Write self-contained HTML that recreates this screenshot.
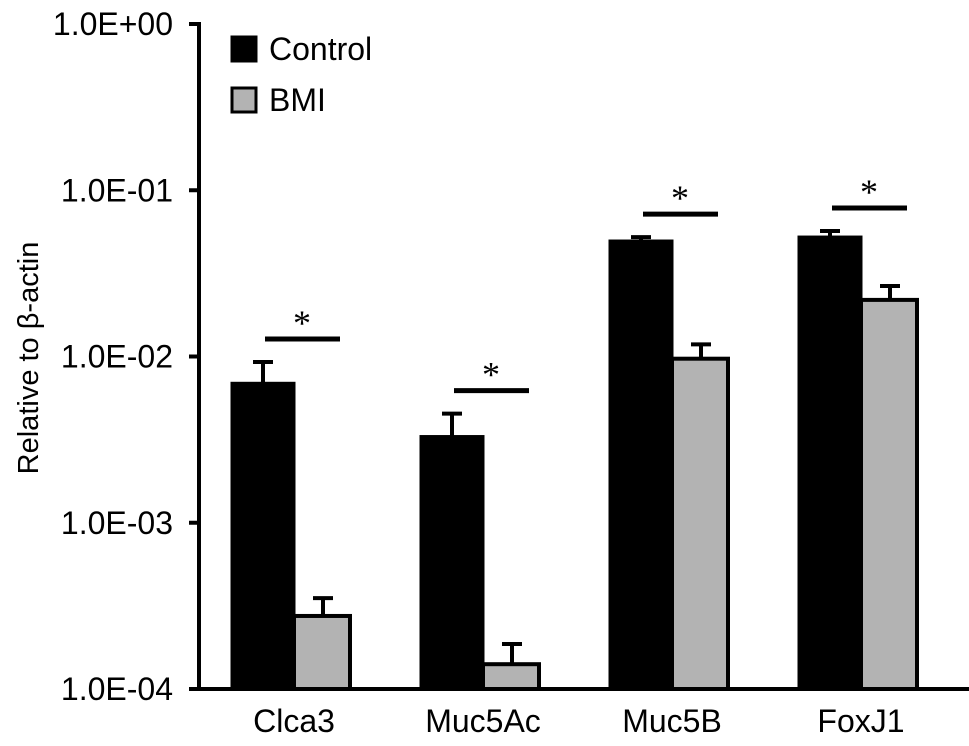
<!DOCTYPE html>
<html><head><meta charset="utf-8"><style>
body{margin:0;background:#fff}
svg{display:block;font-family:"Liberation Sans",Arial,sans-serif}
</style></head><body>
<svg id="chart" width="969" height="746"></svg>
<script>
const categories=["Clca3","Muc5Ac","Muc5B","FoxJ1"];
const controlVals=[0.0069,0.0033,0.0495,0.0523];
const controlErr=[0.0094,0.0046,0.053,0.0577];
const bmiVals=[0.000275,0.000141,0.0097,0.0219];
const bmiErr=[0.000357,0.000189,0.012,0.0269];
const tickVals=[1,0.1,0.01,0.001,0.0001];
const tickLabels=["1.0E+00","1.0E-01","1.0E-02","1.0E-03","1.0E-04"];

const svg=document.getElementById('chart');
const NS="http://www.w3.org/2000/svg";
const yTop=24,yBot=689,axisX=199;
function y(v){return yTop+(-Math.log10(v))*(yBot-yTop)/4;}
function gx(i){return 232+i*189;}
function mk(tag,attrs,parent){const e=document.createElementNS(NS,tag);for(const k in attrs)e.setAttribute(k,attrs[k]);(parent||svg).appendChild(e);return e;}

let a=mk('line',{x1:axisX,y1:yTop-2,x2:axisX,y2:yBot,stroke:'#000','stroke-width':4});


a=mk('line',{x1:axisX-2,y1:yBot,x2:969,y2:yBot,stroke:'#000','stroke-width':4});



tickVals.forEach((v,i)=>{
  const t=mk('line',{x1:axisX-10,y1:y(v),x2:axisX,y2:y(v),stroke:'#000','stroke-width':4});
  
  
  const l=mk('text',{x:173,y:y(v)+11,'text-anchor':'end','font-size':32});
  l.textContent=tickLabels[i];
  
  
});

const yt=mk('text',{x:38,y:358,'text-anchor':'middle','font-size':29,transform:'rotate(-90 38 358)'});
yt.textContent='Relative to β-actin';



const bw=62;
function errbar(cx,top,v){
  const l=mk('line',{x1:cx,y1:y(v),x2:cx,y2:top,stroke:'#000','stroke-width':4});
  
  
  const c=mk('line',{x1:cx-10,y1:y(v)+1,x2:cx+10,y2:y(v)+1,stroke:'#000','stroke-width':4});
  
  
}
categories.forEach((c,i)=>{
  const x0=gx(i);
  errbar(x0+bw/2,y(controlVals[i]),controlErr[i]);
  errbar(x0+bw+bw/2-2,y(bmiVals[i]),bmiErr[i]);
  const b1=mk('rect',{x:x0,y:y(controlVals[i]),width:bw,height:yBot-y(controlVals[i]),fill:'#000',stroke:'#000','stroke-width':3});
  
  
  const b2=mk('rect',{x:x0+bw,y:y(bmiVals[i]),width:bw-6,height:yBot-y(bmiVals[i]),fill:'#b3b3b3',stroke:'#000','stroke-width':4});
  
  
  const sy=Math.min(y(controlErr[i]),y(bmiErr[i]))-22;
  const s=mk('line',{x1:x0+33,y1:sy,x2:x0+108,y2:sy,stroke:'#000','stroke-width':5});
  
  
  const st=mk('text',{x:x0+70,y:sy-4,'text-anchor':'middle','font-size':36,'font-family':'Liberation Serif,serif'});
  st.textContent='*';
  
  
  const xl=mk('text',{x:x0+bw,y:732,'text-anchor':'middle','font-size':32});
  xl.textContent=c;
  
  
});

const lg=[['Control','#000',49],['BMI','#b3b3b3',100]];
lg.forEach(l=>{
  const r=mk('rect',{x:232,y:l[2]-12,width:24,height:24,fill:l[1],stroke:'#000','stroke-width':3});
  
  
  const t=mk('text',{x:269,y:l[2]+11,'font-size':32});
  t.textContent=l[0];
  
  
});
</script>
</body></html>
